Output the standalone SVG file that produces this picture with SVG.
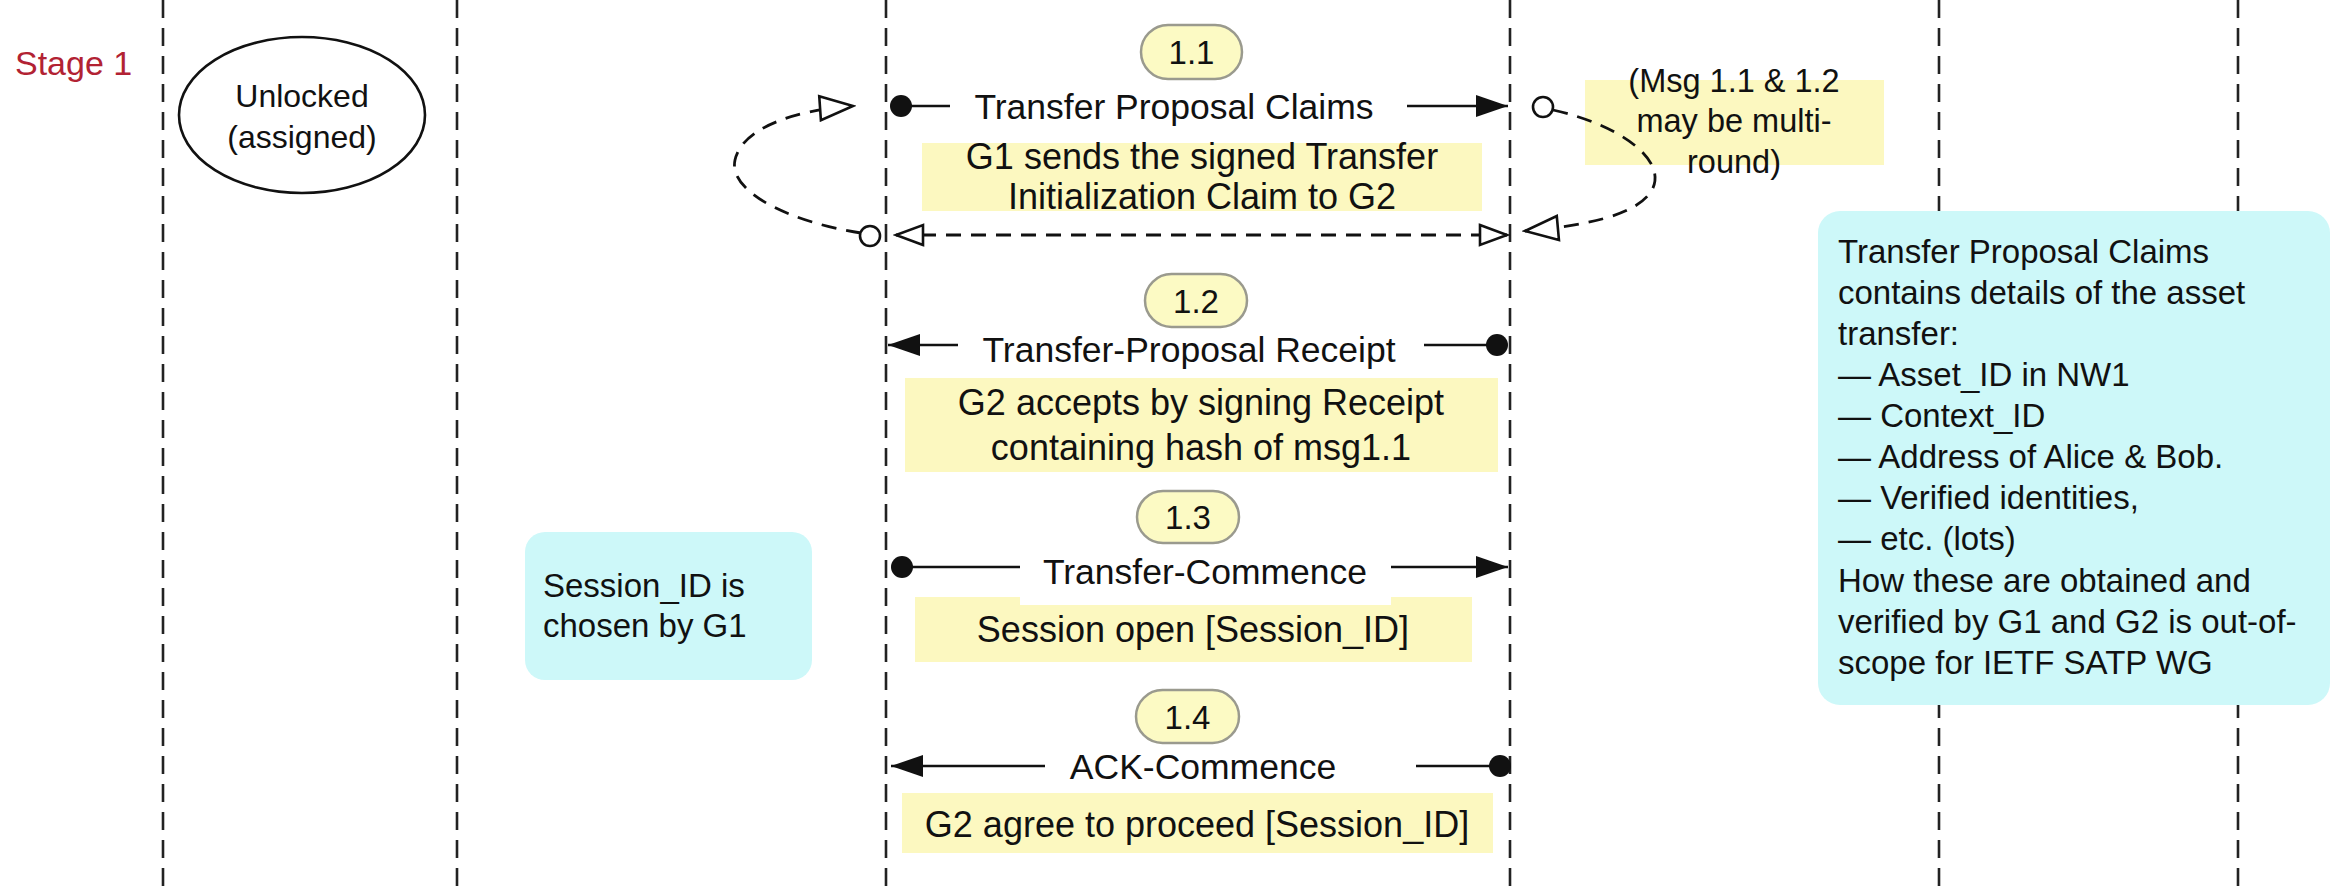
<svg xmlns="http://www.w3.org/2000/svg" width="2336" height="886" viewBox="0 0 2336 886">
<style>
text{font-family:"Liberation Sans",Arial,Helvetica,sans-serif;fill:#111}
.life{stroke:#222;stroke-width:2.6;stroke-dasharray:18 10;fill:none}
.msg{stroke:#111;stroke-width:2.6;fill:none}
.dash{stroke:#111;stroke-width:2.8;stroke-dasharray:15 10;fill:none}
.badge{fill:#fcfac4;stroke:#9a9a8e;stroke-width:2.5}
.note{fill:#fcf8c0}
.cyan{fill:#cdf8f9}
.lbl{font-size:35.5px;text-anchor:middle}
.ytx{font-size:36px;text-anchor:middle}
.num{font-size:33px;text-anchor:middle}
.ctx{font-size:33px}
.dot{fill:#111}
.ocirc{fill:#fff;stroke:#111;stroke-width:2.6}
</style>
<defs>
<marker id="af" markerUnits="userSpaceOnUse" viewBox="0 0 32 22" refX="32" refY="11" markerWidth="32" markerHeight="22" orient="auto">
<path d="M0,0 L32,11 L0,22 z" fill="#111"/>
</marker>
<marker id="ao" markerUnits="userSpaceOnUse" viewBox="0 0 32 24" refX="29" refY="12" markerWidth="32" markerHeight="24" orient="auto-start-reverse">
<path d="M2,2 L29,12 L2,22 z" fill="#fff" stroke="#111" stroke-width="2.6"/>
</marker>
<marker id="ab" markerUnits="userSpaceOnUse" viewBox="0 0 38 28" refX="35" refY="14" markerWidth="38" markerHeight="28" orient="auto">
<path d="M2,2 L35,14 L2,26 z" fill="#fff" stroke="#111" stroke-width="2.6"/>
</marker>
</defs>
<rect width="2336" height="886" fill="#fff"/>

<g id="lifelines">
<line class="life" x1="163" y1="0" x2="163" y2="886"/>
<line class="life" x1="457" y1="0" x2="457" y2="886"/>
<line class="life" x1="886" y1="0" x2="886" y2="886"/>
<line class="life" x1="1510" y1="0" x2="1510" y2="886"/>
<line class="life" x1="1939" y1="0" x2="1939" y2="886"/>
<line class="life" x1="2238" y1="0" x2="2238" y2="886"/>
</g>

<g id="stage-label">
<text x="15" y="75" style="font-size:34px;fill:#b22233">Stage 1</text>
</g>

<g id="state-unlocked">
<ellipse cx="302" cy="115" rx="123" ry="78" fill="#fff" stroke="#111" stroke-width="2.6"/>
<text x="302" y="107" style="font-size:32px;text-anchor:middle">Unlocked</text>
<text x="302" y="148" style="font-size:32px;text-anchor:middle">(assigned)</text>
</g>

<g id="note-session">
<rect class="cyan" x="525" y="532" width="287" height="148" rx="20"/>
<text class="ctx" x="543" y="597">Session_ID is</text>
<text class="ctx" x="543" y="637">chosen by G1</text>
</g>

<g id="note-claims">
<rect class="cyan" x="1818" y="211" width="512" height="494" rx="22"/>
<text class="ctx" x="1838" y="263">Transfer Proposal Claims</text>
<text class="ctx" x="1838" y="304">contains details of the asset</text>
<text class="ctx" x="1838" y="345">transfer:</text>
<text class="ctx" x="1838" y="386">— Asset_ID in NW1</text>
<text class="ctx" x="1838" y="427">— Context_ID</text>
<text class="ctx" x="1838" y="468">— Address of Alice &amp; Bob.</text>
<text class="ctx" x="1838" y="509">— Verified identities,</text>
<text class="ctx" x="1838" y="550">— etc. (lots)</text>
<text class="ctx" x="1838" y="592">How these are obtained and</text>
<text class="ctx" x="1838" y="633">verified by G1 and G2 is out-of-</text>
<text class="ctx" x="1838" y="674">scope for IETF SATP WG</text>
</g>

<g id="note-multiround">
<rect class="note" x="1585" y="80" width="299" height="85"/>
<text x="1734" y="92" style="font-size:32.5px;text-anchor:middle">(Msg 1.1 &amp; 1.2</text>
<text x="1734" y="132" style="font-size:32.5px;text-anchor:middle">may be multi-</text>
<text x="1734" y="173" style="font-size:32.5px;text-anchor:middle">round)</text>
</g>

<g id="msg-1-1">
<rect class="badge" x="1141" y="25" width="101" height="54" rx="27"/>
<text class="num" x="1191.5" y="64">1.1</text>
<rect class="note" x="922" y="143" width="560" height="68"/>
<text class="ytx" x="1202" y="169">G1 sends the signed Transfer</text>
<text class="ytx" x="1202" y="209">Initialization Claim to G2</text>
<text class="lbl" x="1174" y="119">Transfer Proposal Claims</text>
</g>

<g id="msg-1-2">
<rect class="badge" x="1145" y="274" width="102" height="53" rx="26.5"/>
<text class="num" x="1196" y="313">1.2</text>
<rect class="note" x="905" y="378" width="593" height="94"/>
<text class="ytx" x="1201" y="415">G2 accepts by signing Receipt</text>
<text class="ytx" x="1201" y="460">containing hash of msg1.1</text>
<text class="lbl" x="1189" y="362">Transfer-Proposal Receipt</text>
</g>

<g id="msg-1-3">
<rect class="badge" x="1137" y="491" width="102" height="52" rx="26"/>
<text class="num" x="1188" y="529">1.3</text>
<rect class="note" x="915" y="597" width="557" height="65"/>
<rect x="1020" y="548" width="371" height="57" fill="#fff"/>
<text class="ytx" x="1193" y="642">Session open [Session_ID]</text>
<text class="lbl" x="1205" y="584">Transfer-Commence</text>
</g>

<g id="msg-1-4">
<rect class="badge" x="1136" y="690" width="103" height="53" rx="26.5"/>
<text class="num" x="1187.5" y="729">1.4</text>
<rect class="note" x="902" y="793" width="591" height="60"/>
<text class="ytx" x="1197" y="837">G2 agree to proceed [Session_ID]</text>
<text class="lbl" x="1203" y="779">ACK-Commence</text>
</g>

<g id="connectors">
<!-- 1.1 -->
<line class="msg" x1="901" y1="106" x2="950" y2="106"/>
<line class="msg" x1="1407" y1="106" x2="1508" y2="106" marker-end="url(#af)"/>
<circle class="dot" cx="901" cy="106" r="11"/>
<!-- multi-round loop -->
<line class="dash" x1="896" y1="235" x2="1507" y2="235" marker-start="url(#ao)" marker-end="url(#ao)"/>
<path class="dash" d="M861,233 C790,222 728,192 735,160 C742,128 795,110 853,106" marker-end="url(#ab)"/>
<circle class="ocirc" cx="870" cy="236" r="10"/>
<path class="dash" d="M1553,110 C1620,125 1668,160 1652,190 C1636,217 1580,226 1525,231" marker-end="url(#ab)"/>
<circle class="ocirc" cx="1543" cy="107" r="10"/>
<!-- 1.2 -->
<line class="msg" x1="958" y1="345" x2="888" y2="345" marker-end="url(#af)"/>
<line class="msg" x1="1424" y1="345" x2="1497" y2="345"/>
<circle class="dot" cx="1497" cy="345" r="11"/>
<!-- 1.3 -->
<line class="msg" x1="902" y1="567" x2="1020" y2="567"/>
<line class="msg" x1="1391" y1="567" x2="1508" y2="567" marker-end="url(#af)"/>
<circle class="dot" cx="902" cy="567" r="11"/>
<!-- 1.4 -->
<line class="msg" x1="1045" y1="766" x2="891" y2="766" marker-end="url(#af)"/>
<line class="msg" x1="1416" y1="766" x2="1500" y2="766"/>
<circle class="dot" cx="1500" cy="766" r="11"/>
</g>
</svg>
